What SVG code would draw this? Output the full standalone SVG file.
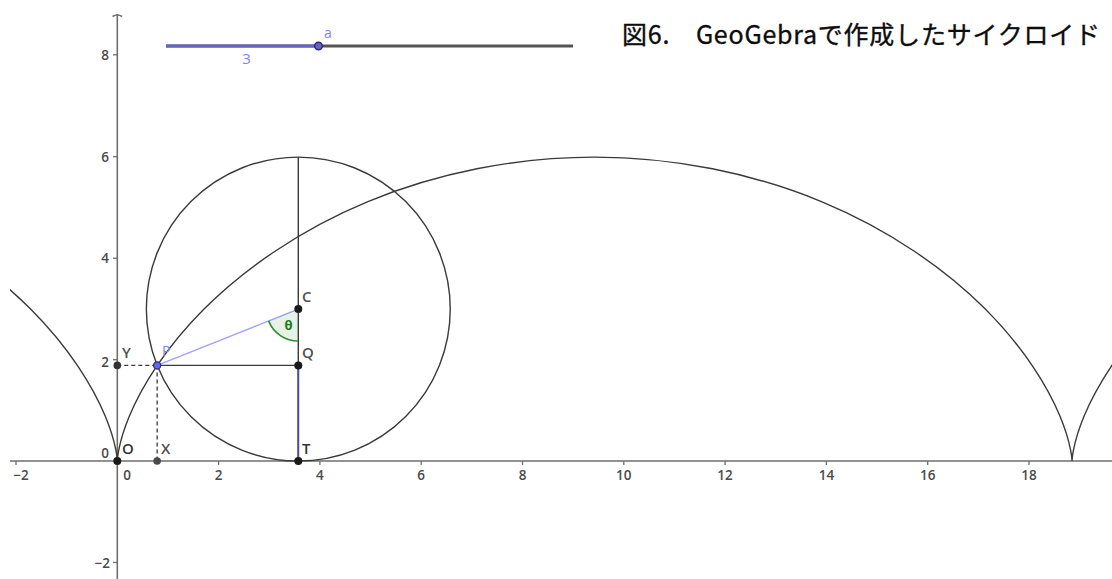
<svg xmlns="http://www.w3.org/2000/svg" width="1112" height="579" viewBox="0 0 1112 579">
<style>
.axis{stroke:#6e6e6e;stroke-width:1.6;fill:none}
.tick{stroke:#6e6e6e;stroke-width:1.3}
.num{font-family:"Open Sans","Noto Sans",sans-serif;font-size:13.5px;font-weight:600;fill:#4a4a4a}
.curve{stroke:#3a3a3a;stroke-width:1.4;fill:none}
.dash{stroke:#3a3a3a;stroke-width:1.3;stroke-dasharray:4 3;fill:none}
.lbl{font-family:"Open Sans","Noto Sans",sans-serif;font-size:15px;font-weight:600;fill:#505050}
.pt{fill:#1a1a1a}
</style>
<defs>
<clipPath id="view"><rect x="10" y="0" width="1102" height="579"/></clipPath>
</defs>
<rect width="1112" height="579" fill="#ffffff"/>
<g id="title">
<text x="622" y="44" font-family="'Noto Sans CJK JP','Noto Sans',sans-serif" font-size="25" fill="#0d0d0d" stroke="#0d0d0d" stroke-width="0.35" textLength="478" lengthAdjust="spacing">図6.　GeoGebraで作成したサイクロイド</text>
</g>
<g id="axes">
<line class="axis" x1="10" y1="461" x2="1112" y2="461"/>
<line class="axis" x1="117.3" y1="14" x2="117.3" y2="579"/>
<path class="axis" d="M112.5 16.5 Q117.3 13.5 122.1 16.5"/>
<g class="tick">
<line x1="16" y1="461" x2="16" y2="465"/>
<line x1="218.6" y1="461" x2="218.6" y2="465"/>
<line x1="319.9" y1="461" x2="319.9" y2="465"/>
<line x1="421.2" y1="461" x2="421.2" y2="465"/>
<line x1="522.5" y1="461" x2="522.5" y2="465"/>
<line x1="623.8" y1="461" x2="623.8" y2="465"/>
<line x1="725.1" y1="461" x2="725.1" y2="465"/>
<line x1="826.4" y1="461" x2="826.4" y2="465"/>
<line x1="927.7" y1="461" x2="927.7" y2="465"/>
<line x1="1029" y1="461" x2="1029" y2="465"/>
<line x1="113" y1="54.8" x2="117.3" y2="54.8"/>
<line x1="113" y1="156.7" x2="117.3" y2="156.7"/>
<line x1="113" y1="258.2" x2="117.3" y2="258.2"/>
<line x1="113" y1="359.7" x2="117.3" y2="359.7"/>
<line x1="113" y1="562.5" x2="117.3" y2="562.5"/>
</g>
<g class="num" text-anchor="middle">
<text x="21" y="480">−2</text>
<text x="127" y="480">0</text>
<text x="218.6" y="480">2</text>
<text x="319.9" y="480">4</text>
<text x="421.2" y="480">6</text>
<text x="522.5" y="480">8</text>
<text x="623.8" y="480">10</text>
<text x="725.1" y="480">12</text>
<text x="826.4" y="480">14</text>
<text x="927.7" y="480">16</text>
<text x="1029" y="480">18</text>
</g>
<g class="num" text-anchor="end">
<text x="109" y="59.5">8</text>
<text x="109" y="161.5">6</text>
<text x="109" y="263">4</text>
<text x="109" y="367">2</text>
<text x="109" y="458">0</text>
<text x="110" y="568">−2</text>
</g>
</g>
<g id="slider">
<line x1="166" y1="46" x2="573" y2="46" stroke="#555" stroke-width="3"/>
<line x1="166" y1="46" x2="318.5" y2="46" stroke="#6464c8" stroke-width="3"/>
<circle cx="318.5" cy="46" r="3.8" fill="#6464c8" stroke="#2e2e66" stroke-width="1.5"/>
<text x="324" y="38" font-family="'Open Sans','Noto Sans',sans-serif" font-size="14" fill="#8080ff">a</text>
<text x="246.5" y="64" text-anchor="middle" font-family="'Open Sans','Noto Sans',sans-serif" font-size="15" fill="#8080ff">3</text>
</g>
<g id="cycloid" clip-path="url(#view)">
<path class="curve" d="M-133.28 201.61 C-65.37 229.74 -9.21 269.27 30.57 309.05 C70.35 348.83 93.75 388.36 105.4 416.49 C117.05 444.62 117.3 461 117.3 461 C117.3 461 117.55 444.62 129.2 416.49 C140.85 388.36 164.25 348.83 204.03 309.05 C243.81 269.27 299.97 229.74 367.88 201.61 C435.79 173.48 515.11 157.1 594.67 157.1 C674.23 157.1 753.54 173.48 821.45 201.61 C889.36 229.74 945.52 269.27 985.3 309.05 C1025.08 348.83 1048.48 388.36 1060.13 416.49 C1071.78 444.62 1072.03 461 1072.03 461 C1072.03 461 1072.28 444.62 1083.93 416.49 C1095.58 388.36 1118.98 348.83 1158.76 309.05"/>
</g>
<g id="circle">
<circle class="curve" cx="298.3" cy="309.05" r="151.95"/>
</g>
<g id="connectors">
<line class="curve" x1="298.3" y1="157.1" x2="298.3" y2="461"/>
<line x1="298.3" y1="365.4" x2="298.3" y2="461" stroke="#4e4e9a" stroke-width="1.9"/>
<line class="curve" x1="157.15" y1="365.4" x2="298.3" y2="365.4"/>
<line class="dash" x1="117.3" y1="365.4" x2="157.15" y2="365.4"/>
<line class="dash" x1="157.15" y1="365.4" x2="157.15" y2="461"/>
<line x1="157.15" y1="365.4" x2="298.3" y2="309.05" stroke="#a0a0ff" stroke-width="1.3"/>
</g>
<g id="angle">
<path d="M298.3 309.05 L268.58 320.92 A32 32 0 0 0 298.3 341.05 Z" fill="#007f00" fill-opacity="0.1" stroke="none"/>
<path d="M268.58 320.92 A32 32 0 0 0 298.3 341.05" fill="none" stroke="#2f8f2f" stroke-width="1.6"/>
<text x="288.5" y="329.5" text-anchor="middle" font-family="'Open Sans','Noto Sans',sans-serif" font-size="13" font-weight="700" fill="#1a7a1a">θ</text>
</g>
<g id="points">
<g id="pO"><circle class="pt" cx="117.3" cy="461" r="4"/><text class="lbl" x="122" y="454" style="fill:#333">O</text></g>
<g id="pX"><circle cx="157.15" cy="461" r="3.8" fill="#4a4a4a"/><text class="lbl" x="161" y="454">X</text></g>
<g id="pT"><circle class="pt" cx="298.3" cy="461" r="4"/><text class="lbl" x="302" y="454" style="fill:#333">T</text></g>
<g id="pQ"><circle class="pt" cx="298.3" cy="365.4" r="4"/><text class="lbl" x="302" y="358">Q</text></g>
<g id="pC"><circle class="pt" cx="298.3" cy="309.05" r="4"/><text class="lbl" x="302" y="302">C</text></g>
<g id="pY"><circle cx="117.3" cy="365.4" r="3.8" fill="#333"/><text class="lbl" x="122" y="358">Y</text></g>
<g id="pP"><circle cx="157.15" cy="365.4" r="3.6" fill="#6464ff" stroke="#2e2e66" stroke-width="1.2"/><text x="162" y="356" font-family="'Open Sans','Noto Sans',sans-serif" font-size="14" fill="#8080ff">P</text></g>
</g>
</svg>
